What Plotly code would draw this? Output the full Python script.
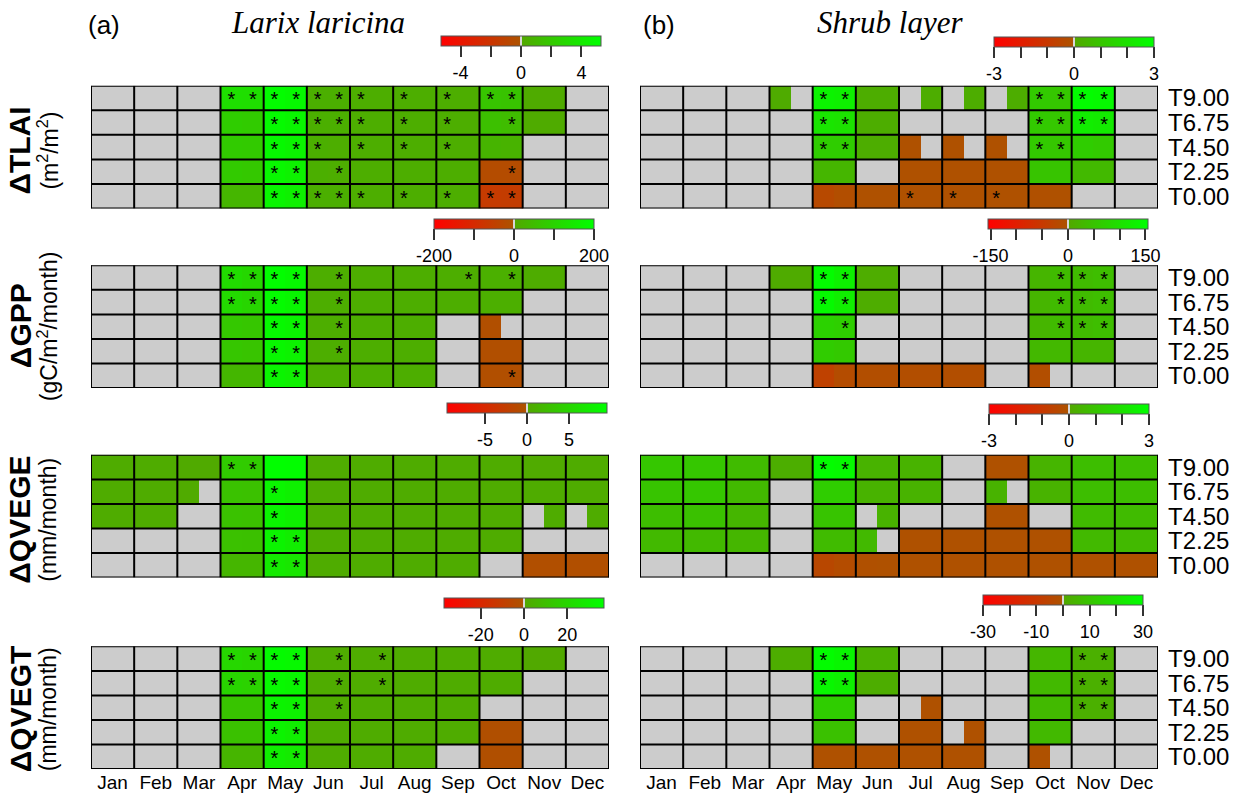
import numpy as np
import plotly.graph_objects as go

W, H = 1244, 796
N = None

months = ["Jan", "Feb", "Mar", "Apr", "May", "Jun", "Jul", "Aug", "Sep", "Oct", "Nov", "Dec"]
treatments = ["T9.00", "T6.75", "T4.50", "T2.25", "T0.00"]

# Each row holds two half-month values per month (24 values), rows T9.00 -> T0.00.
# None = no significant response (drawn grey).
tlai_larix = [
    [N, N, N, N, N, N, 3.4, 3.3, 5.1, 4.9, 0.5, 0.5, 0.4, 0.4, 0.4, 0.4, 0.4, 0.4, 1.8, 1.7, 0.25, 0.25, N, N],
    [N, N, N, N, N, N, 2.3, 2.2, 5.0, 4.7, 0.5, 0.5, 0.4, 0.4, 0.4, 0.4, 0.4, 0.4, 1.5, 1.3, 0.25, 0.25, N, N],
    [N, N, N, N, N, N, 2.2, 2.1, 4.9, 4.6, 0.5, 0.4, 0.4, 0.4, 0.4, 0.4, 0.4, 0.4, 0.8, 0.7, N, N, N, N],
    [N, N, N, N, N, N, 2.1, 2.0, 4.8, 4.5, 0.5, 0.4, 0.4, 0.4, 0.4, 0.4, 0.4, 0.4, -0.5, -0.5, N, N, N, N],
    [N, N, N, N, N, N, 0.9, 0.9, 4.7, 4.4, 0.5, 0.5, 0.4, 0.4, 0.4, 0.4, 0.4, 0.4, -1.6, -1.5, N, N, N, N],
]
tlai_larix_sig = [
    ".. .. .. ** ** ** *. *. *. ** .. ..",
    ".. .. .. .. ** ** *. *. *. .* .. ..",
    ".. .. .. .. ** *. *. *. *. .. .. ..",
    ".. .. .. .. ** .* .. .. .. .* .. ..",
    ".. .. .. .. ** ** *. *. *. ** .. ..",
]

tlai_shrub = [
    [N, N, N, N, N, N, 0.15, N, 2.6, 2.5, 0.2, 0.2, N, 0.2, N, 0.2, N, 0.2, 1.2, 1.1, 2.9, 2.8, N, N],
    [N, N, N, N, N, N, N, N, 2.1, 2.0, 0.2, 0.2, N, N, N, N, N, N, 1.2, 1.1, 2.4, 2.3, N, N],
    [N, N, N, N, N, N, N, N, 1.3, 1.3, 0.2, 0.2, -0.1, N, -0.1, N, -0.1, N, 1.2, 1.1, 1.3, 1.2, N, N],
    [N, N, N, N, N, N, N, N, 0.5, 0.5, N, N, -0.1, -0.1, -0.1, -0.1, -0.1, -0.1, 1.0, 1.0, 0.6, 0.6, N, N],
    [N, N, N, N, N, N, N, N, -0.4, -0.2, -0.1, -0.1, -0.1, -0.1, -0.1, -0.1, -0.1, -0.1, -0.15, -0.1, N, N, N, N],
]
tlai_shrub_sig = [
    ".. .. .. .. ** .. .. .. .. ** ** ..",
    ".. .. .. .. ** .. .. .. .. ** ** ..",
    ".. .. .. .. ** .. .. .. .. ** .. ..",
    ".. .. .. .. .. .. .. .. .. .. .. ..",
    ".. .. .. .. .. .. *. *. *. .. .. ..",
]

gpp_larix = [
    [N, N, N, N, N, N, 120, 110, 195, 185, 15, 15, 15, 15, 15, 15, 15, 15, 20, 20, 12, 12, N, N],
    [N, N, N, N, N, N, 115, 105, 190, 180, 15, 15, 15, 15, 15, 15, 15, 15, 18, 18, N, N, N, N],
    [N, N, N, N, N, N, 75, 70, 185, 175, 15, 15, 15, 15, 15, 15, N, N, -12, N, N, N, N, N],
    [N, N, N, N, N, N, 70, 65, 180, 170, 15, 15, 15, 15, 15, 15, N, N, -12, -12, N, N, N, N],
    [N, N, N, N, N, N, 35, 35, 175, 165, 15, 15, 15, 15, 15, 15, N, N, -12, -12, N, N, N, N],
]
gpp_larix_sig = [
    ".. .. .. ** ** .* .. .. .* .* .. ..",
    ".. .. .. ** ** .* .. .. .. .. .. ..",
    ".. .. .. .. ** .* .. .. .. .. .. ..",
    ".. .. .. .. ** .* .. .. .. .. .. ..",
    ".. .. .. .. ** .. .. .. .. .* .. ..",
]

gpp_shrub = [
    [N, N, N, N, N, N, 8, 8, 150, 130, 10, 10, N, N, N, N, N, N, 25, 35, 35, 40, N, N],
    [N, N, N, N, N, N, N, N, 145, 125, 10, 10, N, N, N, N, N, N, 25, 35, 35, 40, N, N],
    [N, N, N, N, N, N, N, N, 75, 70, N, N, N, N, N, N, N, N, 25, 35, 35, 40, N, N],
    [N, N, N, N, N, N, N, N, 65, 60, N, N, N, N, N, N, N, N, 30, 30, 25, 25, N, N],
    [N, N, N, N, N, N, N, N, -35, -15, -12, -12, -12, -12, -12, -12, N, N, -12, N, N, N, N, N],
]
gpp_shrub_sig = [
    ".. .. .. .. ** .. .. .. .. .* ** ..",
    ".. .. .. .. ** .. .. .. .. .* ** ..",
    ".. .. .. .. .* .. .. .. .. .* ** ..",
    ".. .. .. .. .. .. .. .. .. .. .. ..",
    ".. .. .. .. .. .. .. .. .. .. .. ..",
]

qvege_larix = [
    [0.5, 0.5, 0.5, 0.5, 0.3, 0.3, 4.0, 3.9, 9.4, 9.3, 0.5, 0.5, 0.5, 0.5, 0.5, 0.5, 0.5, 0.5, 0.5, 0.5, 0.4, 0.4, 0.5, 0.5],
    [0.5, 0.5, 0.5, 0.5, 0.4, N, 2.9, 2.8, 8.4, 7.9, 0.5, 0.5, 0.5, 0.5, 0.5, 0.5, 0.5, 0.5, 0.5, 0.5, 0.5, 0.5, 0.5, 0.5],
    [0.5, 0.5, 0.5, 0.5, N, N, 2.9, 2.8, 8.4, 7.9, 0.5, 0.5, 0.5, 0.5, 0.5, 0.5, 0.5, 0.5, 0.5, 0.5, N, 0.5, N, 0.5],
    [N, N, N, N, N, N, 2.8, 2.7, 8.2, 7.6, 0.5, 0.5, 0.5, 0.5, 0.5, 0.5, 0.5, 0.5, 0.5, 0.5, N, N, N, N],
    [N, N, N, N, N, N, 1.6, 1.6, 7.2, 6.8, 0.5, 0.5, 0.5, 0.5, 0.5, 0.5, 0.5, 0.5, N, N, -0.6, -0.6, -0.6, -0.6],
]
qvege_larix_sig = [
    ".. .. .. ** .. .. .. .. .. .. .. ..",
    ".. .. .. .. *. .. .. .. .. .. .. ..",
    ".. .. .. .. *. .. .. .. .. .. .. ..",
    ".. .. .. .. ** .. .. .. .. .. .. ..",
    ".. .. .. .. ** .. .. .. .. .. .. ..",
]

qvege_shrub = [
    [1.1, 1.1, 1.1, 1.1, 0.7, 0.7, 0.25, 0.25, 2.9, 2.8, 0.4, 0.4, 0.4, 0.4, N, N, -0.1, -0.1, 0.4, 0.5, 0.8, 0.8, 0.8, 0.8],
    [1.0, 1.0, 1.1, 1.1, 0.6, 0.6, N, N, 1.3, 1.3, 0.4, 0.4, 0.4, 0.4, N, N, 0.4, N, 0.4, 0.4, 0.8, 0.8, 0.8, 0.8],
    [0.8, 0.8, 0.9, 0.9, 0.5, 0.5, N, N, 1.0, 1.0, N, 0.4, N, N, N, N, -0.1, -0.1, N, N, 0.7, 0.7, 0.7, 0.7],
    [0.6, 0.6, 0.6, 0.6, 0.5, 0.5, N, N, 0.7, 0.7, 0.6, N, -0.1, -0.1, -0.1, -0.1, -0.1, -0.1, -0.1, -0.1, 0.6, 0.6, 0.6, 0.6],
    [N, N, N, N, N, N, N, N, -0.45, -0.3, -0.15, -0.1, -0.1, -0.1, -0.1, -0.1, -0.1, -0.1, -0.1, -0.1, -0.1, -0.1, -0.1, -0.1],
]
qvege_shrub_sig = [
    ".. .. .. .. ** .. .. .. .. .. .. ..",
    ".. .. .. .. .. .. .. .. .. .. .. ..",
    ".. .. .. .. .. .. .. .. .. .. .. ..",
    ".. .. .. .. .. .. .. .. .. .. .. ..",
    ".. .. .. .. .. .. .. .. .. .. .. ..",
]

qvegt_larix = [
    [N, N, N, N, N, N, 20, 19, 35, 34, 2, 2, 2, 2, 2, 2, 2, 2, 2, 2, 1, 1, N, N],
    [N, N, N, N, N, N, 19, 18, 34, 33, 2, 2, 2, 2, 2, 2, 2, 2, 2, 2, N, N, N, N],
    [N, N, N, N, N, N, 12, 12, 32, 31, 2, 2, 2, 2, 2, 2, 2, 2, N, N, N, N, N, N],
    [N, N, N, N, N, N, 11, 11, 32, 30, 2, 2, 2, 2, 2, 2, 2, 2, -2, -2, N, N, N, N],
    [N, N, N, N, N, N, 6, 6, 30, 28, 2, 2, 2, 2, 2, 2, N, N, -2, -2, N, N, N, N],
]
qvegt_larix_sig = [
    ".. .. .. ** ** .* .* .. .. .. .. ..",
    ".. .. .. ** ** .* .* .. .. .. .. ..",
    ".. .. .. .. ** .* .. .. .. .. .. ..",
    ".. .. .. .. ** .. .. .. .. .. .. ..",
    ".. .. .. .. ** .. .. .. .. .. .. ..",
]

qvegt_shrub = [
    [N, N, N, N, N, N, 2, 2, 29, 27, 3, 3, N, N, N, N, N, N, 5, 6, 3, 3, N, N],
    [N, N, N, N, N, N, N, N, 27, 25, 2, 2, N, N, N, N, N, N, 6, 6, 3, 3, N, N],
    [N, N, N, N, N, N, N, N, 13, 13, N, N, N, -1, N, N, N, N, 6, 6, 3, 3, N, N],
    [N, N, N, N, N, N, N, N, 9, 9, N, N, -1, -1, N, -1, N, N, 6, 6, N, N, N, N],
    [N, N, N, N, N, N, N, N, -1, -1, -1, -1, -1, -1, -1, -1, N, N, -1, N, N, N, N, N],
]
qvegt_shrub_sig = [
    ".. .. .. .. ** .. .. .. .. .. ** ..",
    ".. .. .. .. ** .. .. .. .. .. ** ..",
    ".. .. .. .. .. .. .. .. .. .. ** ..",
    ".. .. .. .. .. .. .. .. .. .. .. ..",
    ".. .. .. .. .. .. .. .. .. .. .. ..",
]

# Colour-bar limits and ticks for each panel
cbar_range = [5.3, 3, 200, 155, 9.5, 3, 37, 30]
cbar_ticks = [
    [-4, -2, 0, 2, 4], [-3, -2, -1, 0, 1, 2, 3],
    [-200, -100, 0, 100, 200], [-150, -100, -50, 0, 50, 100, 150],
    [-5, 0, 5], [-3, -2, -1, 0, 1, 2, 3],
    [-20, 0, 20], [-30, -20, -10, 0, 10, 20, 30],
]
cbar_labels = [
    ["-4", "", "0", "", "4"], ["-3", "", "", "0", "", "", "3"],
    ["-200", "", "0", "", "200"], ["-150", "", "", "0", "", "", "150"],
    ["-5", "0", "5"], ["-3", "", "", "0", "", "", "3"],
    ["-20", "0", "20"], ["-30", "", "-10", "", "10", "", "30"],
]

panel_values = [tlai_larix, tlai_shrub, gpp_larix, gpp_shrub,
                qvege_larix, qvege_shrub, qvegt_larix, qvegt_shrub]
panel_sig = [tlai_larix_sig, tlai_shrub_sig, gpp_larix_sig, gpp_shrub_sig,
             qvege_larix_sig, qvege_shrub_sig, qvegt_larix_sig, qvegt_shrub_sig]

variables = ["ΔTLAI", "ΔGPP", "ΔQVEGE", "ΔQVEGT"]
units = ["(m<sup>2</sup>/m<sup>2</sup>)", "(gC/m<sup>2</sup>/month)", "(mm/month)", "(mm/month)"]

# ---------------------------------------------------------------- layout
FONT = "Liberation Sans, Arial, sans-serif"
SERIF = "Liberation Serif, Times New Roman, serif"

row_px = [(85, 208), (265, 388), (455, 578), (647, 770)]   # top / bottom
col_px = [(91, 609), (640, 1158)]                          # left / right
cbar_px = [(441, 35), (994, 36), (434, 219), (988, 219),
           (447, 403), (989, 404), (444, 599), (983, 595)]
label_mid = [150, 326, 520, 710]


def fx(p):
    return p / W


def fy(p):
    return 1 - p / H


colorscale = [
    [0.0, "#FF0000"], [0.494, "#AD5300"], [0.494, "#D8D8D8"],
    [0.506, "#D8D8D8"], [0.506, "#52A800"], [1.0, "#00FF00"],
]

x_half = np.arange(24) * 0.5 + 0.25
y_rows = np.arange(len(treatments))[::-1]          # T9.00 on top

fig = go.Figure()
layout = dict(
    width=W, height=H, margin=dict(l=0, r=0, t=0, b=0),
    paper_bgcolor="white", plot_bgcolor="#CCCCCC",
    font=dict(family=FONT, color="black"), showlegend=False,
)
shapes, annotations = [], []

for k in range(8):
    r, c = divmod(k, 2)
    n = k + 1
    xa = "xaxis" if n == 1 else f"xaxis{n}"
    ya = "yaxis" if n == 1 else f"yaxis{n}"
    xr = "x" if n == 1 else f"x{n}"
    yr = "y" if n == 1 else f"y{n}"
    ca = "coloraxis" if n == 1 else f"coloraxis{n}"

    z = np.array([[np.nan if v is None else v for v in row] for row in panel_values[k]], dtype=float)
    fig.add_trace(go.Heatmap(
        z=z, x=x_half, y=y_rows, coloraxis=ca, xaxis=xr, yaxis=yr,
        hoverinfo="skip", zsmooth=False,
    ))

    # significance asterisks
    sx, sy = [], []
    for i, row in enumerate(panel_sig[k]):
        flags = row.replace(" ", "")
        for j, f in enumerate(flags):
            if f == "*":
                sx.append(x_half[j])
                sy.append(y_rows[i] - 0.14)
    fig.add_trace(go.Scatter(
        x=sx, y=sy, mode="text", text=["*"] * len(sx),
        textfont=dict(size=20, color="black", family=FONT),
        xaxis=xr, yaxis=yr, hoverinfo="skip",
    ))

    top, bot = row_px[r]
    left, right = col_px[c]
    layout[xa] = dict(
        domain=[fx(left), fx(right)], range=[0, 12], anchor=yr,
        showgrid=False, zeroline=False, ticks="", fixedrange=True,
        tickvals=np.arange(12) + 0.5, ticktext=months,
        showticklabels=(r == 3), tickfont=dict(size=19, color="black"),
    )
    layout[ya] = dict(
        domain=[fy(bot), fy(top)], range=[-0.5, 4.5], anchor=xr,
        showgrid=False, zeroline=False, ticks="", fixedrange=True,
        tickvals=y_rows, ticktext=treatments, side="right",
        showticklabels=(c == 1), tickfont=dict(size=24, color="black"),
        ticklabelstandoff=9,
    )

    R = cbar_range[k]
    cx, cy = cbar_px[k]
    layout[ca] = dict(
        cmin=-R, cmax=R, colorscale=colorscale,
        colorbar=dict(
            orientation="h", x=fx(cx), xanchor="left", y=fy(cy), yanchor="top",
            len=160, lenmode="pixels", thickness=10, thicknessmode="pixels",
            xpad=0, ypad=0, outlinewidth=1, outlinecolor="#555555",
            tickvals=cbar_ticks[k], ticktext=cbar_labels[k],
            ticks="outside", ticklen=11, tickwidth=1.5, tickcolor="#333333",
            tickfont=dict(size=18, color="black", family=FONT),
        ),
    )

    # cell grid: month boundaries and treatment rows
    for m in range(13):
        shapes.append(dict(type="line", xref=xr, yref=yr, x0=m, x1=m, y0=-0.5, y1=4.5,
                           line=dict(color="black", width=2), layer="above"))
    for t in range(6):
        shapes.append(dict(type="line", xref=xr, yref=yr, x0=0, x1=12, y0=t - 0.5, y1=t - 0.5,
                           line=dict(color="black", width=2), layer="above"))

# panel titles
annotations += [
    dict(text="(a)", x=fx(86), y=fy(24), xref="paper", yref="paper", xanchor="left",
         yanchor="middle", showarrow=False, font=dict(size=26, family=FONT)),
    dict(text="<i>Larix laricina</i>", x=fx(318), y=fy(22), xref="paper", yref="paper",
         xanchor="center", yanchor="middle", showarrow=False, font=dict(size=31, family=SERIF)),
    dict(text="(b)", x=fx(641), y=fy(24), xref="paper", yref="paper", xanchor="left",
         yanchor="middle", showarrow=False, font=dict(size=26, family=FONT)),
    dict(text="<i>Shrub layer</i>", x=fx(890), y=fy(22), xref="paper", yref="paper",
         xanchor="center", yanchor="middle", showarrow=False, font=dict(size=31, family=SERIF)),
]

# variable names on the left
for r in range(4):
    mid = label_mid[r]
    annotations.append(dict(text=f"<b>{variables[r]}</b>", x=fx(20), y=fy(mid), xref="paper",
                            yref="paper", xanchor="center", yanchor="middle", textangle=-90,
                            showarrow=False, font=dict(size=30, family=FONT)))
    annotations.append(dict(text=units[r], x=fx(48), y=fy(mid), xref="paper",
                            yref="paper", xanchor="center", yanchor="middle", textangle=-90,
                            showarrow=False, font=dict(size=23, family=FONT)))

layout["shapes"] = shapes
layout["annotations"] = annotations
fig.update_layout(**layout)

fig.write_html("out.html")
